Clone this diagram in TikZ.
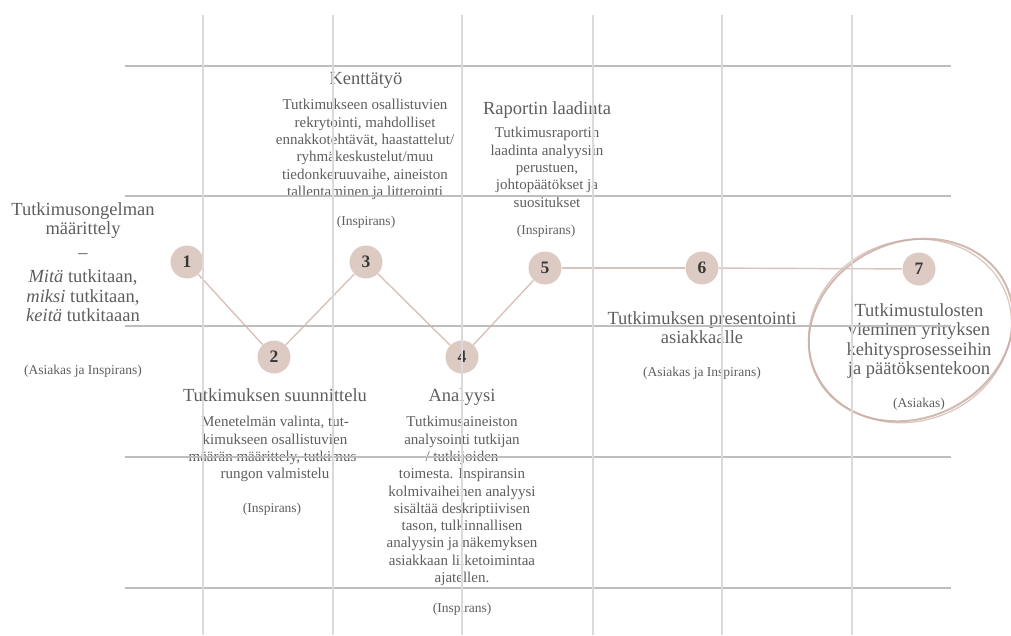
\documentclass[tikz,border=0pt]{standalone}
\usepackage{fontspec}
\setmainfont{Liberation Serif}
\usetikzlibrary{positioning}
\definecolor{rose}{HTML}{DDCBC3}
\definecolor{roseline}{HTML}{D8C2B9}
\definecolor{loopline}{HTML}{C9AEA4}
\definecolor{gridv}{HTML}{DADADA}
\definecolor{gridh}{HTML}{BEBEBE}
\definecolor{ink}{HTML}{5E5E5E}

\begin{document}
\begin{tikzpicture}[x=1pt,y=-1pt,thick,
  vertex/.style={circle,fill=rose,minimum size=33pt,inner sep=0pt,text=ink!60!black,font=\fontsize{17.5}{17.5}\selectfont\bfseries},
  phase/.style={anchor=north,inner sep=0pt,align=center,text=ink,font=\fontsize{18.5}{19.5}\selectfont},
  detail/.style={anchor=north,inner sep=0pt,align=center,text=ink,font=\fontsize{15}{17.3}\selectfont},
  who/.style={anchor=north,inner sep=0pt,align=center,text=ink,font=\fontsize{13.5}{15}\selectfont},
  link/.style={draw=roseline,line width=1.4pt},
  vline/.style={draw=gridv,line width=1.8pt},
  hline/.style={draw=gridh,line width=1.1pt}]
\useasboundingbox (0,0) rectangle (1011,635);

% texts
\node[phase] (t1) at (83,202) {Tutkimusongelman\\määrittely\\[4.5pt]–\\[4.5pt]\emph{Mitä} tutkitaan,\\\emph{miksi} tutkitaan,\\\emph{keitä} tutkitaaan};
\node[who] (r1) at (83,365) {(Asiakas ja Inspirans)};

\node[phase] (t3) at (366,72) {Kenttätyö};
\node[detail] (b3) at (365,99) {Tutkimukseen osallistuvien\\rekrytointi, mahdolliset\\ennakkotehtävät, haastattelut/\\ryhmäkeskustelut/muu\\tiedonkeruuvaihe, aineiston\\tallentaminen ja litterointi};
\node[who] (r3) at (366,216) {(Inspirans)};

\node[phase] (t5) at (547,101) {Raportin laadinta};
\node[detail] (b5) at (547,127) {Tutkimusraportin\\laadinta analyysiin\\perustuen,\\johtopäätökset ja\\suositukset};
\node[who] (r5) at (546,225) {(Inspirans)};

\node[phase] (t2) at (275,388) {Tutkimuksen suunnittelu};
\node[detail] (b2) at (275,416) {Menetelmän valinta, tut-\\kimukseen osallistuvien\\määrän määrittely, tutkimus-\\rungon valmistelu};
\node[who] (r2) at (272,503) {(Inspirans)};

\node[phase] (t4) at (462,388) {Analyysi};
\node[detail] (b4) at (462,416) {Tutkimusaineiston\\analysointi tutkijan\\/ tutkijoiden\\toimesta. Inspiransin\\kolmivaiheinen analyysi\\sisältää deskriptiivisen\\tason, tulkinnallisen\\analyysin ja näkemyksen\\asiakkaan liiketoimintaa\\ajatellen.};
\node[who] (r4) at (462,603) {(Inspirans)};

\node[phase] (t6) at (702,311) {Tutkimuksen presentointi\\asiakkaalle};
\node[who] (r6) at (702,367) {(Asiakas ja Inspirans)};

\node[phase] (t7) at (919,303) {Tutkimustulosten\\vieminen yrityksen\\kehitysprosesseihin\\ja päätöksentekoon};
\node[who] (r7) at (919,398) {(Asiakas)};

% hand drawn loop
\draw[draw=loopline,line width=2pt,opacity=.85,rotate around={25:(911,330)}] (911,330) ellipse [x radius=105, y radius=88];
\draw[draw=loopline,line width=1.2pt,opacity=.7,rotate around={21:(910,331)}] (910,331) ellipse [x radius=103, y radius=90];

% phases
\node[vertex] (p1) at (187,262) {1};
\node[vertex] (p2) at (274,357) {2};
\node[vertex] (p3) at (366,262) {3};
\node[vertex] (p4) at (462,357) {4};
\node[vertex] (p5) at (545,268) {5};
\node[vertex] (p6) at (702,268) {6};
\node[vertex] (p7) at (919,269) {7};
\path
(p1) edge[link] (p2)
(p2) edge[link] (p3)
(p3) edge[link] (p4)
(p4) edge[link] (p5)
(p5) edge[link] (p6)
(p6) edge[link] (p7);

% grid
\foreach \y in {66,196,326,457,588}
  \draw[hline] (125,\y) -- (951,\y);
\foreach \x in {203,333,462,593,722,852}
  \draw[vline] (\x,15) -- (\x,635);
\end{tikzpicture}
\end{document}
